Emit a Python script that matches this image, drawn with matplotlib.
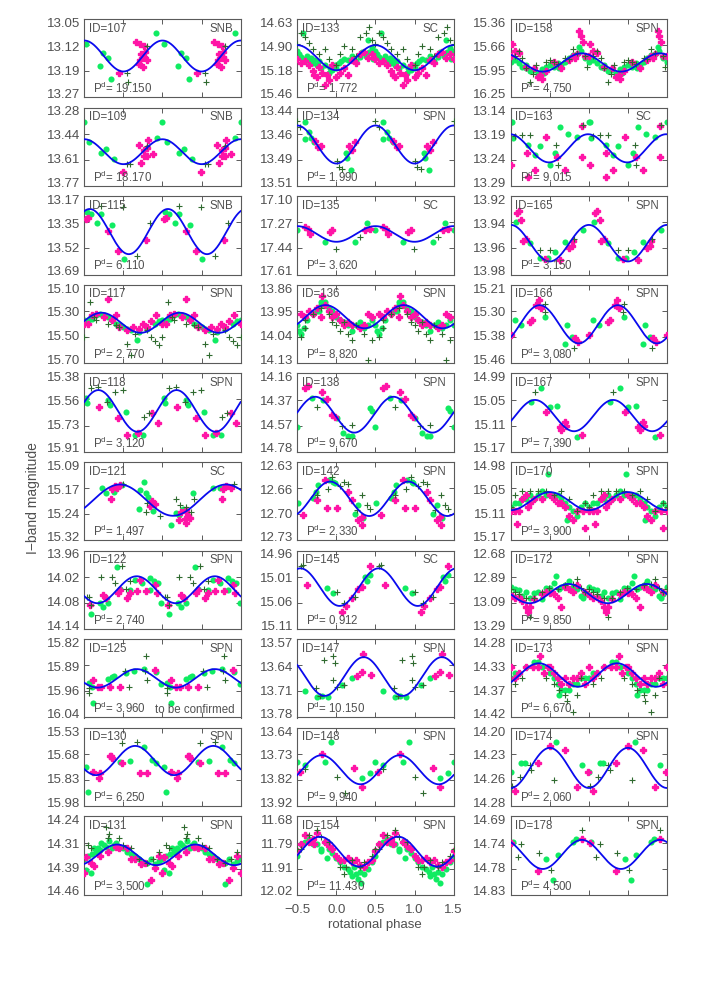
import numpy as np
import matplotlib
matplotlib.use('Agg')
import matplotlib.pyplot as plt

plt.rcParams['font.family'] = ['Liberation Sans', 'DejaVu Sans']
plt.rcParams['mathtext.default'] = 'regular'

# ---------------- panel metadata (column-major order) ----------------
IDS = [107, 109, 115, 117, 118, 121, 122, 125, 130, 131,
       133, 134, 135, 136, 138, 142, 145, 147, 148, 154,
       158, 163, 165, 166, 167, 170, 172, 173, 174, 178]
CLASSES = ['SNB', 'SNB', 'SNB', 'SPN', 'SPN', 'SC', 'SPN', 'SPN', 'SPN', 'SPN',
           'SC', 'SPN', 'SC', 'SPN', 'SPN', 'SPN', 'SC', 'SPN', 'SPN', 'SPN',
           'SPN', 'SC', 'SPN', 'SPN', 'SPN', 'SPN', 'SPN', 'SPN', 'SPN', 'SPN']
PERIODS = ['19.150', '18.170', '6.110', '2.770', '3.120', '1.497', '2.740', '3.960', '6.250', '3.500',
           '1.772', '1.990', '3.620', '8.820', '9.670', '2.330', '0.912', '10.150', '9.940', '11.430',
           '4.750', '9.015', '3.150', '3.080', '7.390', '3.900', '9.850', '6.670', '2.060', '4.500']
YLABELS = [
    ['13.05', '13.12', '13.19', '13.27'], ['13.28', '13.44', '13.61', '13.77'],
    ['13.17', '13.35', '13.52', '13.69'], ['15.10', '15.30', '15.50', '15.70'],
    ['15.38', '15.56', '15.73', '15.91'], ['15.09', '15.17', '15.24', '15.32'],
    ['13.96', '14.02', '14.08', '14.14'], ['15.82', '15.89', '15.96', '16.04'],
    ['15.53', '15.68', '15.83', '15.98'], ['14.24', '14.31', '14.39', '14.46'],
    ['14.63', '14.90', '15.18', '15.46'], ['13.44', '13.46', '13.49', '13.51'],
    ['17.10', '17.27', '17.44', '17.61'], ['13.86', '13.95', '14.04', '14.13'],
    ['14.16', '14.37', '14.57', '14.78'], ['12.63', '12.66', '12.70', '12.73'],
    ['14.96', '15.01', '15.06', '15.11'], ['13.57', '13.64', '13.71', '13.78'],
    ['13.64', '13.73', '13.82', '13.92'], ['11.68', '11.79', '11.91', '12.02'],
    ['15.36', '15.66', '15.95', '16.25'], ['13.14', '13.19', '13.24', '13.29'],
    ['13.92', '13.94', '13.96', '13.98'], ['15.21', '15.30', '15.38', '15.46'],
    ['14.99', '15.05', '15.11', '15.17'], ['14.98', '15.05', '15.11', '15.17'],
    ['12.68', '12.89', '13.09', '13.29'], ['14.28', '14.33', '14.37', '14.42'],
    ['14.20', '14.23', '14.26', '14.28'], ['14.69', '14.74', '14.78', '14.83']]

# sinusoidal fit: mean mag, semi-amplitude, phase of maximum brightness, period (in phase units)
FIT_MEAN = [13.154, 13.556, 13.405, 15.391, 15.634, 15.202, 14.050, 15.930, 15.718, 14.348,
            15.040, 13.473, 17.346, 13.970, 14.487, 12.677, 15.030, 13.670, 13.790, 11.833,
            15.854, 13.218, 13.956, 15.336, 15.087, 15.075, 13.015, 14.344, 14.241, 14.758]
FIT_AMP = [0.0435, 0.078, 0.150, 0.077, 0.141, 0.046, 0.031, 0.026, 0.084, 0.029,
           0.133, 0.017, 0.051, 0.040, 0.142, 0.022, 0.036, 0.052, 0.052, 0.065,
           0.104, 0.027, 0.014, 0.061, 0.036, 0.022, 0.075, 0.021, 0.0205, 0.026]
FIT_PHASE = [0.50, 0.50, 0.57, 0.72, 0.68, -0.045, 0.17, 0.17, 0.15, 0.92,
             0.50, 0.50, 0.50, 0.86, 0.73, 0.92, 0.54, 0.35, 0.81, 0.79,
             0.41, 0.49, 0.50, 0.87, 0.81, 0.00, 0.24, 0.86, 0.00, 0.41]
FIT_PERIOD = [1, 1, 1, 1, 1, 1.36, 1, 1, 1, 1,
              1, 1, 1, 1, 1, 1, 1, 1, 1, 1,
              1, 1, 1, 1, 1, 1, 1, 1, 1, 1]
# phases repeated over two cycles except ID=121 (phases given directly)
REPEAT = [True] * 30
REPEAT[5] = False

# ---------------- observations: (phase, I mag) ----------------
# green circles, magenta filled plus, dark green crosses
g107 = [(0.517, 13.121), (0.743, 13.146), (0.806, 13.159), (0.70, 13.181), (0.836, 13.218), (0.423, 13.090)]
m107 = [(0.157, 13.116), (0.211, 13.121), (0.262, 13.126), (0.28, 13.142), (0.23, 13.149), (0.27, 13.156),
        (0.211, 13.165), (0.20, 13.177), (0.25, 13.184), (0.30, 13.165), (0.947, 13.201)]
c107 = [(0.049, 13.201), (0.06, 13.228), (0.304, 13.126)]

g109 = [(0.50, 13.368), (0.56, 13.497), (0.713, 13.561), (0.78, 13.54), (0.879, 13.603), (0.432, 13.472)]
m109 = [(0.202, 13.514), (0.262, 13.545), (0.304, 13.535), (0.317, 13.482), (0.262, 13.586), (0.304, 13.58),
        (0.38, 13.57), (0.223, 13.624), (0.989, 13.68)]
c109 = [(0.049, 13.63), (0.083, 13.63), (0.304, 13.52)]

g115 = [(0.53, 13.278), (0.657, 13.347), (0.713, 13.285), (0.857, 13.363), (0.006, 13.584), (0.58, 13.29)]
m115 = [(0.517, 13.323), (0.806, 13.402), (0.926, 13.533), (0.287, 13.462), (0.55, 13.318)]
c115 = [(0.709, 13.236), (0.168, 13.565), (0.338, 13.351), (0.998, 13.24)]

g117 = [(0.55, 15.38), (0.6, 15.36), (0.65, 15.33), (0.7, 15.32), (0.75, 15.33), (0.8, 15.35), (0.85, 15.37),
        (0.9, 15.40), (0.95, 15.41), (0.0, 15.42), (0.05, 15.44), (0.1, 15.45), (0.17, 15.52), (0.2, 15.46),
        (0.3, 15.44), (0.4, 15.40), (0.45, 15.38), (0.5, 15.37), (0.58, 15.35)]
m117 = [(0.806, 15.207), (0.6, 15.33), (0.65, 15.32), (0.75, 15.35), (0.85, 15.37), (0.9, 15.33), (0.95, 15.42),
        (0.05, 15.45), (0.12, 15.42), (0.2, 15.44), (0.25, 15.40), (0.3, 15.42), (0.35, 15.38), (0.42, 15.33),
        (0.5, 15.40), (0.55, 15.40)]
c117 = [(0.572, 15.235), (0.65, 15.37), (0.8, 15.40), (0.9, 15.41), (0.95, 15.42), (0.05, 15.55), (0.1, 15.64),
        (0.15, 15.48), (0.3, 15.45), (0.35, 15.50), (0.4, 15.53), (0.45, 15.56), (0.5, 15.50), (0.62, 15.35)]

g118 = [(0.517, 15.549), (0.798, 15.56), (0.828, 15.594), (0.032, 15.639), (0.538, 15.578), (0.147, 15.80),
        (0.253, 15.80)]
m118 = [(0.691, 15.606), (0.934, 15.684), (0.049, 15.797), (0.189, 15.786), (0.372, 15.651), (0.445, 15.718)]
c118 = [(0.581, 15.481), (0.679, 15.47), (0.785, 15.572), (0.891, 15.504), (0.262, 15.673), (0.33, 15.651),
        (0.998, 15.493)]

g121 = [(-0.279, 15.165), (-0.228, 15.18), (-0.121, 15.177), (-0.023, 15.158), (0.211, 15.172), (0.262, 15.148),
        (0.287, 15.182), (0.317, 15.194), (0.202, 15.229), (0.381, 15.234), (0.615, 15.275), (0.679, 15.241),
        (0.713, 15.246), (0.764, 15.229), (0.891, 15.18), (1.147, 15.165), (1.232, 15.165)]
m121 = [(-0.151, 15.17), (-0.109, 15.16), (-0.079, 15.167), (-0.045, 15.158), (-0.164, 15.2), (0.36, 15.206),
        (0.402, 15.213), (0.338, 15.219), (0.743, 15.236), (0.806, 15.231), (0.828, 15.246), (0.857, 15.255),
        (0.785, 15.258), (0.713, 15.26), (0.806, 15.27), (1.274, 15.17), (1.317, 15.16), (1.381, 15.165),
        (1.266, 15.2)]
c121 = [(-0.011, 15.156), (0.296, 15.211), (0.287, 15.236), (0.474, 15.249), (0.679, 15.2), (0.721, 15.216),
        (0.806, 15.221), (0.87, 15.236), (0.9, 15.2), (1.415, 15.156)]

g122 = [(0.581, 14.106), (0.70, 14.081), (0.743, 14.09), (0.806, 14.081), (0.764, 14.066), (0.921, 13.998),
        (0.955, 14.049), (0.083, 14.05), (0.147, 14.027), (0.232, 14.035), (0.338, 14.024), (0.389, 14.031),
        (0.445, 14.035), (0.487, 14.081), (0.338, 14.05)]
m122 = [(0.572, 14.085), (0.743, 14.062), (0.777, 14.07), (0.934, 14.058), (0.955, 14.05), (0.083, 14.058),
        (0.168, 14.054), (0.211, 14.027), (0.287, 14.054), (0.402, 14.039), (0.432, 14.058), (0.04, 14.07)]
c122 = [(0.564, 14.066), (0.581, 14.085), (0.709, 14.02), (0.849, 14.021), (0.977, 13.995), (0.032, 14.049),
        (0.083, 14.029), (0.53, 14.066), (0.89, 14.035)]

g125 = [(0.564, 15.942), (0.594, 15.955), (0.606, 16.0), (0.806, 15.932), (0.849, 15.925), (0.879, 15.923),
        (0.032, 15.914), (0.134, 15.909), (0.262, 15.904), (0.415, 15.911), (0.487, 15.945)]
m125 = [(0.606, 15.934), (0.679, 15.955), (0.828, 15.953), (0.955, 15.953), (0.402, 15.906), (0.72, 15.955)]
c125 = [(0.564, 15.958), (0.564, 15.972), (0.019, 15.908), (0.074, 15.955), (0.287, 15.867), (0.274, 15.909),
        (0.304, 15.934)]

g130 = [(0.517, 15.754), (0.543, 15.898), (0.955, 15.725), (0.091, 15.719), (0.262, 15.639), (0.368, 15.716),
        (0.415, 15.735)]
m130 = [(0.828, 15.693), (0.849, 15.706), (0.7, 15.792), (0.691, 15.821), (0.615, 15.782), (0.977, 15.735),
        (0.211, 15.788), (0.296, 15.788), (0.84, 15.69)]
c130 = [(0.977, 15.62), (0.168, 15.61)]

g131 = [(0.5, 14.36), (0.55, 14.35), (0.6, 14.345), (0.62, 14.33), (0.68, 14.33), (0.7, 14.335), (0.75, 14.32),
        (0.78, 14.325), (0.82, 14.31), (0.85, 14.33), (0.9, 14.315), (0.95, 14.33), (0.0, 14.33), (0.05, 14.34),
        (0.1, 14.345), (0.15, 14.35), (0.2, 14.36), (0.25, 14.37), (0.3, 14.37), (0.35, 14.36), (0.4, 14.375),
        (0.45, 14.365), (0.52, 14.39), (0.58, 14.40), (0.3, 14.43), (0.65, 14.34), (0.72, 14.315), (0.88, 14.32)]
m131 = [(0.52, 14.355), (0.58, 14.37), (0.62, 14.38), (0.7, 14.35), (0.8, 14.34), (0.9, 14.325), (0.95, 14.33),
        (0.05, 14.33), (0.1, 14.36), (0.15, 14.36), (0.22, 14.375), (0.28, 14.37), (0.35, 14.42), (0.4, 14.385),
        (0.45, 14.35), (0.5, 14.4)]
c131 = [(0.55, 14.32), (0.58, 14.33), (0.78, 14.27), (0.8, 14.30), (0.82, 14.29), (0.95, 14.3), (0.0, 14.32),
        (0.1, 14.33), (0.2, 14.36), (0.3, 14.37), (0.38, 14.36), (0.45, 14.34)]

g133 = [(0.5, 14.97), (0.52, 15.0), (0.55, 15.03), (0.57, 14.78), (0.6, 15.05), (0.62, 15.02), (0.65, 15.07),
        (0.68, 15.04), (0.7, 15.1), (0.72, 15.06), (0.75, 15.12), (0.78, 15.08), (0.8, 15.15), (0.85, 15.12),
        (0.9, 15.2), (0.92, 15.15), (0.95, 15.17), (0.98, 15.12), (0.0, 15.15), (0.03, 15.1), (0.06, 15.08),
        (0.1, 15.05), (0.15, 15.06), (0.2, 15.02), (0.25, 15.08), (0.3, 15.03), (0.33, 14.98), (0.38, 15.02),
        (0.42, 14.98), (0.45, 14.94), (0.47, 15.05), (0.4, 14.85)]
m133 = [(0.55, 15.1), (0.6, 15.08), (0.65, 15.12), (0.7, 15.18), (0.72, 15.22), (0.75, 15.25), (0.78, 15.14),
        (0.82, 15.2), (0.85, 15.33), (0.88, 15.22), (0.9, 15.28), (0.95, 15.12), (0.0, 15.25), (0.05, 15.2),
        (0.1, 15.15), (0.15, 15.22), (0.2, 15.06), (0.25, 15.1), (0.3, 15.0), (0.35, 14.98), (0.4, 15.04),
        (0.45, 15.0), (0.5, 15.05)]
c133 = [(0.5, 14.9), (0.55, 14.78), (0.6, 14.82), (0.7, 14.95), (0.78, 15.0), (0.85, 14.95), (0.9, 15.05),
        (0.0, 15.12), (0.05, 15.0), (0.1, 14.92), (0.2, 14.95), (0.3, 14.82), (0.38, 14.78), (0.42, 14.72),
        (0.45, 14.85), (0.65, 14.88), (0.25, 15.02)]

g134 = [(0.6, 13.453), (0.6, 13.468), (0.67, 13.467), (0.72, 13.471), (0.12, 13.481), (0.14, 13.485),
        (0.19, 13.496), (0.65, 13.462)]
m134 = [(0.73, 13.47), (0.77, 13.475), (0.8, 13.474), (0.16, 13.474), (0.24, 13.471), (0.2, 13.478)]
c134 = [(0.5, 13.452), (0.004, 13.488), (0.034, 13.493), (0.077, 13.495), (0.54, 13.457)]

g135 = [(0.5, 17.321), (0.855, 17.397), (0.239, 17.397), (0.389, 17.274)]
m135 = [(0.598, 17.30), (0.641, 17.311), (0.662, 17.343), (0.919, 17.332), (0.949, 17.321), (0.368, 17.321),
        (0.432, 17.311)]
c135 = [(0.991, 17.441), (0.303, 17.365)]

g136 = [(0.5, 14.0), (0.52, 14.02), (0.55, 14.03), (0.58, 14.01), (0.62, 13.98), (0.7, 13.96), (0.75, 13.95),
        (0.8, 13.93), (0.85, 13.92), (0.9, 13.94), (0.95, 13.95), (0.0, 13.97), (0.05, 13.98), (0.1, 13.99),
        (0.15, 14.0), (0.2, 14.02), (0.25, 14.0), (0.3, 13.99), (0.35, 14.01), (0.4, 14.0), (0.45, 13.98),
        (0.8, 13.92), (0.78, 13.95)]
m136 = [(0.55, 13.96), (0.6, 13.97), (0.65, 13.95), (0.7, 13.96), (0.75, 13.94), (0.8, 13.97), (0.82, 13.9),
        (0.85, 13.93), (0.9, 13.95), (0.95, 13.97), (0.0, 13.96), (0.05, 13.98), (0.1, 14.0), (0.15, 13.99),
        (0.2, 14.0), (0.3, 14.01), (0.35, 14.0), (0.4, 13.96), (0.45, 13.97)]
c136 = [(0.55, 14.04), (0.6, 13.98), (0.7, 13.96), (0.8, 13.94), (0.9, 13.96), (0.95, 13.99), (0.0, 14.0),
        (0.05, 14.02), (0.1, 13.99), (0.15, 14.03), (0.2, 14.05), (0.25, 14.0), (0.35, 14.03), (0.4, 14.12),
        (0.45, 14.05), (0.6, 14.01)]

g138 = [(0.5, 14.587), (0.684, 14.358), (0.833, 14.371), (0.004, 14.516), (0.09, 14.635), (0.154, 14.656),
        (0.197, 14.656), (0.432, 14.437), (0.45, 14.46)]
m138 = [(0.598, 14.279), (0.632, 14.26), (0.812, 14.305), (0.876, 14.366), (0.949, 14.49), (0.983, 14.503)]
c138 = [(0.748, 14.429), (0.068, 14.577), (0.197, 14.571)]

g142 = [(0.513, 12.683), (0.705, 12.676), (0.735, 12.668), (0.769, 12.659), (0.906, 12.653), (0.962, 12.655),
        (0.983, 12.657), (0.239, 12.696), (0.282, 12.685), (0.346, 12.702)]
m142 = [(0.577, 12.698), (0.748, 12.679), (0.855, 12.653), (0.876, 12.689), (0.004, 12.689), (0.154, 12.668),
        (0.197, 12.679), (0.282, 12.704), (0.325, 12.70), (0.333, 12.71)]
c142 = [(0.748, 12.672), (0.949, 12.649), (0.897, 12.664), (0.047, 12.661), (0.103, 12.656), (0.154, 12.658),
        (0.261, 12.691), (0.333, 12.672), (0.389, 12.685), (0.432, 12.69)]

g145 = [(0.876, 15.032), (0.962, 15.042), (0.368, 15.01), (0.389, 15.019), (0.432, 15.007)]
m145 = [(0.62, 15.026), (0.077, 15.077), (0.12, 15.067), (0.197, 15.051), (0.282, 15.034), (0.325, 15.029),
        (0.432, 14.989)]
c145 = [(0.577, 14.987), (0.004, 15.04), (0.103, 15.061), (0.239, 15.048), (0.547, 14.989)]

g147 = [(0.598, 13.708), (0.748, 13.725), (0.897, 13.725), (0.077, 13.692), (0.197, 13.675), (0.82, 13.722)]
m147 = [(0.261, 13.67), (0.325, 13.657), (0.346, 13.609), (0.444, 13.666)]
c147 = [(0.735, 13.701), (0.791, 13.722), (0.842, 13.625), (0.962, 13.616), (0.983, 13.634), (0.962, 13.679),
        (0.004, 13.697), (0.103, 13.692)]

g148 = [(0.5, 13.762), (0.598, 13.774), (0.855, 13.762), (0.932, 13.69), (0.325, 13.821), (0.432, 13.80)]
m148 = [(0.534, 13.797), (0.812, 13.732), (0.231, 13.782), (0.325, 13.851)]
c148 = [(0.598, 13.789), (0.004, 13.815), (0.111, 13.872)]

g154 = [(0.55, 11.8), (0.6, 11.79), (0.65, 11.78), (0.7, 11.8), (0.75, 11.8), (0.8, 11.82), (0.85, 11.79),
        (0.9, 11.82), (0.95, 11.84), (0.0, 11.86), (0.05, 11.88), (0.1, 11.9), (0.15, 11.91), (0.18, 11.92),
        (0.2, 11.94), (0.22, 11.9), (0.25, 11.93), (0.28, 11.95), (0.3, 11.92), (0.32, 11.97), (0.35, 11.93),
        (0.4, 11.91), (0.45, 11.88), (0.5, 11.85), (0.8, 11.83), (0.88, 11.86)]
m154 = [(0.55, 11.8), (0.6, 11.76), (0.65, 11.79), (0.7, 11.78), (0.72, 11.8), (0.85, 11.79), (0.9, 11.81),
        (0.95, 11.82), (0.0, 11.85), (0.05, 11.87), (0.1, 11.87), (0.15, 11.86), (0.2, 11.88), (0.25, 11.87),
        (0.3, 11.89), (0.35, 11.9), (0.4, 11.88), (0.45, 11.87), (0.5, 11.83), (0.75, 11.75)]
c154 = [(0.55, 11.82), (0.65, 11.76), (0.75, 11.74), (0.8, 11.77), (0.9, 11.79), (0.05, 11.9), (0.1, 11.93),
        (0.12, 11.9), (0.2, 11.87), (0.3, 11.9), (0.35, 11.88), (0.45, 11.85), (0.5, 11.82)]

g158 = [(0.5, 15.85), (0.55, 15.83), (0.6, 15.86), (0.65, 15.9), (0.7, 15.92), (0.75, 15.95), (0.8, 15.94),
        (0.85, 15.98), (0.9, 15.93), (0.95, 15.9), (0.0, 15.88), (0.05, 15.9), (0.1, 15.86), (0.15, 15.88),
        (0.2, 15.85), (0.25, 15.8), (0.3, 15.77), (0.35, 15.76), (0.4, 15.72), (0.45, 15.8), (0.38, 15.68),
        (0.12, 15.92), (0.7, 15.88), (0.92, 15.97)]
m158 = [(0.5, 15.78), (0.52, 15.64), (0.55, 15.72), (0.6, 15.75), (0.7, 15.9), (0.8, 15.92), (0.85, 16.02),
        (0.88, 16.0), (0.9, 16.04), (0.95, 15.95), (0.05, 15.85), (0.15, 15.92), (0.25, 15.83), (0.3, 15.78),
        (0.35, 15.76), (0.38, 15.5), (0.4, 15.55), (0.42, 15.62), (0.45, 15.78), (0.32, 15.8)]
c158 = [(0.55, 15.78), (0.6, 15.72), (0.65, 15.8), (0.7, 15.92), (0.75, 16.08), (0.78, 15.98), (0.82, 15.88),
        (0.95, 15.85), (0.0, 15.83), (0.05, 15.85), (0.1, 15.87), (0.2, 15.8), (0.25, 15.82), (0.3, 15.7),
        (0.35, 15.75), (0.45, 15.78), (0.48, 15.9)]

g163 = [(0.521, 13.167), (0.53, 13.199), (0.722, 13.212), (0.808, 13.231), (0.872, 13.213), (0.0, 13.25),
        (0.064, 13.227), (0.128, 13.178), (0.235, 13.19), (0.342, 13.197), (0.5, 13.168)]
m163 = [(0.509, 13.25), (0.714, 13.227), (0.722, 13.272), (0.808, 13.259), (0.957, 13.196), (0.098, 13.234),
        (0.192, 13.259), (0.406, 13.176), (0.415, 13.234)]
c163 = [(0.551, 13.194), (0.645, 13.192), (0.744, 13.192), (0.085, 13.212), (0.107, 13.25), (0.427, 13.173)]

g165 = [(0.564, 13.94), (0.744, 13.956), (0.872, 13.967), (0.979, 13.967), (0.073, 13.963), (0.192, 13.955),
        (0.427, 13.946)]
m165 = [(0.585, 13.933), (0.60, 13.931), (0.637, 13.938), (0.658, 13.954), (0.70, 13.953), (0.936, 13.968),
        (0.128, 13.969), (0.244, 13.96), (0.278, 13.958), (0.299, 13.954)]
c165 = [(0.872, 13.961), (0.0, 13.961), (0.312, 13.953)]

g166 = [(0.551, 15.323), (0.628, 15.339), (0.944, 15.312), (0.192, 15.40), (0.278, 15.376), (0.218, 15.339)]
m166 = [(0.5, 15.371), (0.744, 15.328), (0.774, 15.323), (0.829, 15.275), (0.859, 15.259), (0.885, 15.285),
        (0.321, 15.381), (0.363, 15.392)]
c166 = [(0.944, 15.27), (0.936, 15.296), (0.312, 15.413)]

g167 = [(0.765, 15.055), (0.893, 15.024), (0.0, 15.067), (0.098, 15.065), (0.342, 15.136)]
m167 = [(0.957, 15.078), (0.128, 15.113), (0.192, 15.101), (0.406, 15.132), (0.15, 15.12), (0.21, 15.11)]
c167 = [(0.808, 15.032)]

g170 = [(0.5, 15.09), (0.55, 15.08), (0.6, 15.08), (0.65, 15.07), (0.7, 15.07), (0.75, 15.06), (0.8, 15.07),
        (0.85, 15.06), (0.9, 15.05), (0.95, 15.06), (0.98, 15.01), (0.0, 15.06), (0.05, 15.06), (0.1, 15.06),
        (0.15, 15.07), (0.2, 15.08), (0.25, 15.09), (0.3, 15.1), (0.35, 15.11), (0.4, 15.09), (0.45, 15.08),
        (0.22, 15.12)]
m170 = [(0.55, 15.1), (0.6, 15.1), (0.65, 15.07), (0.7, 15.06), (0.75, 15.08), (0.8, 15.07), (0.9, 15.07),
        (0.0, 15.06), (0.05, 15.07), (0.1, 15.08), (0.15, 15.08), (0.2, 15.09), (0.3, 15.12), (0.35, 15.1),
        (0.42, 15.1), (0.5, 15.1), (0.58, 15.13), (0.72, 15.09), (0.25, 15.11), (0.45, 15.14)]
c170 = [(0.55, 15.06), (0.65, 15.05), (0.75, 15.05), (0.85, 15.05), (0.95, 15.05), (0.05, 15.06), (0.15, 15.05),
        (0.25, 15.07), (0.35, 15.1), (0.45, 15.08), (0.5, 15.09)]

g172 = [(0.5, 12.96), (0.55, 12.98), (0.6, 12.99), (0.65, 13.03), (0.7, 13.0), (0.75, 13.05), (0.8, 13.01),
        (0.85, 13.0), (0.9, 13.06), (0.95, 12.97), (0.0, 12.97), (0.05, 12.93), (0.08, 12.88), (0.12, 12.98),
        (0.15, 12.96), (0.2, 12.95), (0.25, 12.92), (0.3, 12.96), (0.35, 12.98), (0.4, 13.03), (0.45, 13.02),
        (0.42, 13.05)]
m172 = [(0.52, 13.03), (0.55, 13.05), (0.6, 13.04), (0.65, 13.07), (0.7, 13.12), (0.72, 13.16), (0.75, 13.12),
        (0.8, 13.06), (0.9, 13.02), (0.95, 13.0), (0.0, 13.01), (0.05, 13.02), (0.1, 13.05), (0.15, 13.12),
        (0.2, 12.96), (0.25, 12.98), (0.3, 13.0), (0.35, 12.95), (0.45, 13.0)]
c172 = [(0.5, 12.98), (0.6, 13.02), (0.7, 13.05), (0.75, 13.2), (0.8, 13.05), (0.9, 13.0), (0.99, 12.97),
        (0.1, 12.98), (0.2, 12.95), (0.3, 12.94), (0.35, 12.9), (0.4, 12.97), (0.45, 13.0), (0.55, 13.0)]

g173 = [(0.5, 14.35), (0.55, 14.34), (0.6, 14.34), (0.7, 14.33), (0.8, 14.32), (0.85, 14.32), (0.9, 14.33),
        (0.0, 14.34), (0.05, 14.35), (0.1, 14.36), (0.15, 14.37), (0.2, 14.37), (0.25, 14.37), (0.3, 14.36),
        (0.35, 14.36), (0.4, 14.35), (0.45, 14.35), (0.12, 14.38)]
m173 = [(0.5, 14.33), (0.55, 14.35), (0.6, 14.34), (0.7, 14.33), (0.78, 14.33), (0.85, 14.33), (0.88, 14.31),
        (0.92, 14.34), (0.0, 14.33), (0.05, 14.34), (0.1, 14.35), (0.15, 14.36), (0.2, 14.35), (0.25, 14.36),
        (0.3, 14.35), (0.35, 14.35), (0.4, 14.34), (0.45, 14.36), (0.98, 14.33)]
c173 = [(0.55, 14.36), (0.65, 14.35), (0.95, 14.35), (0.05, 14.36), (0.12, 14.37), (0.2, 14.38), (0.22, 14.39),
        (0.3, 14.41), (0.35, 14.38), (0.4, 14.35)]

g174 = [(0.637, 14.236), (0.085, 14.215), (0.406, 14.238), (0.5, 14.245), (0.68, 14.236)]
m174 = [(0.551, 14.265), (0.85, 14.236), (0.0, 14.219), (0.192, 14.223), (0.342, 14.26), (0.491, 14.245)]
c174 = [(0.521, 14.259), (0.615, 14.25), (0.744, 14.238), (0.765, 14.243), (0.056, 14.253)]

g178 = [(0.53, 14.735), (0.957, 14.767), (0.043, 14.804), (0.107, 14.759), (0.299, 14.735), (0.33, 14.73)]
m178 = [(0.509, 14.737), (0.85, 14.787), (0.406, 14.731)]
c178 = [(0.637, 14.739), (0.594, 14.763), (0.863, 14.755), (0.013, 14.785), (0.406, 14.714)]

GREEN = [g107, g109, g115, g117, g118, g121, g122, g125, g130, g131,
         g133, g134, g135, g136, g138, g142, g145, g147, g148, g154,
         g158, g163, g165, g166, g167, g170, g172, g173, g174, g178]
MAGENTA = [m107, m109, m115, m117, m118, m121, m122, m125, m130, m131,
           m133, m134, m135, m136, m138, m142, m145, m147, m148, m154,
           m158, m163, m165, m166, m167, m170, m172, m173, m174, m178]
CROSS = [c107, c109, c115, c117, c118, c121, c122, c125, c130, c131,
         c133, c134, c135, c136, c138, c142, c145, c147, c148, c154,
         c158, c163, c165, c166, c167, c170, c172, c173, c174, c178]

XTICKS = [-0.5, 0.0, 0.5, 1.0, 1.5]
XTICKLABELS = ['\u22120.5', '0.0', '0.5', '1.0', '1.5']

# ---------------- styling ----------------
W, H = 709, 984
TXT = '#505050'
SPINE = '#5a5a5a'
C_GREEN = '#10ec62'
C_MAG = '#ff14a6'
C_CROSS = '#2f6a2f'
C_LINE = '#0a0aee'

fig = plt.figure(figsize=(W / 100, H / 100), dpi=100)
col_left = [84.3, 297.3, 510.7]
panel_w = 156.3
row_top0, row_pitch, panel_h = 19.0, 88.6, 78.3


def expand(pts, repeat):
    ph = np.array([p[0] for p in pts], dtype=float)
    mg = np.array([p[1] for p in pts], dtype=float)
    if not repeat:
        return ph, mg
    xs, ys = [], []
    for shift in (-1.0, 0.0, 1.0):
        x = ph + shift
        keep = (x >= -0.5) & (x <= 1.5)
        xs.append(x[keep])
        ys.append(mg[keep])
    return np.concatenate(xs), np.concatenate(ys)


xfit = np.linspace(-0.5, 1.5, 500)
for k, pid in enumerate(IDS):
    col, row = divmod(k, 10)
    x0 = col_left[col]
    y0 = row_top0 + row * row_pitch
    ax = fig.add_axes([x0 / W, 1 - (y0 + panel_h) / H, panel_w / W, panel_h / H])
    labs = YLABELS[k]
    top, bot = float(labs[0]), float(labs[3])
    ax.set_xlim(-0.5, 1.5)
    ax.set_ylim(bot, top)

    gx, gy = expand(GREEN[k], REPEAT[k])
    mx, my = expand(MAGENTA[k], REPEAT[k])
    cx, cy = expand(CROSS[k], REPEAT[k])
    ax.plot(gx, gy, 'o', ms=4.4, color=C_GREEN, mec=C_GREEN, mew=0, zorder=2)
    ax.plot(mx, my, 'P', ms=4.4, color=C_MAG, mec=C_MAG, mew=1.0, zorder=3)
    ax.plot(cx, cy, '+', ms=4.8, color=C_CROSS, mew=0.8, zorder=4)
    yfit = FIT_MEAN[k] - FIT_AMP[k] * np.cos(2 * np.pi * (xfit - FIT_PHASE[k]) / FIT_PERIOD[k])
    ax.plot(xfit, yfit, '-', color=C_LINE, lw=1.3, zorder=5)

    ax.set_xticks(XTICKS)
    ax.set_yticks([top + (bot - top) / 3.0, top + 2 * (bot - top) / 3.0])
    ax.tick_params(direction='in', length=3.5, width=0.7, color=SPINE,
                   top=True, right=True, labelleft=False,
                   labelbottom=(k == 19), labelsize=9.5, labelcolor=TXT, pad=7)
    if k == 19:
        ax.set_xticklabels(XTICKLABELS)
    for s in ax.spines.values():
        s.set_color(SPINE)
        s.set_linewidth(0.8)

    # y tick labels placed like the original
    for frac, lab in zip([0.939, 0.636, 0.327, 0.03], labs):
        ax.text(-0.026, frac, lab, transform=ax.transAxes, ha='right', va='center',
                fontsize=9.5, color=TXT)
    ax.text(0.030, 0.838, 'ID=%d' % pid, transform=ax.transAxes, ha='left', va='baseline',
            fontsize=8.3, color=TXT, zorder=6)
    ax.text(0.80, 0.838, CLASSES[k], transform=ax.transAxes, ha='left', va='baseline',
            fontsize=8.3, color=TXT, zorder=6)
    ax.text(0.058, 0.052, '$\\mathregular{P^d}$= ' + PERIODS[k], transform=ax.transAxes,
            ha='left', va='baseline', fontsize=8.3, color=TXT, zorder=6)
    if pid == 125:
        ax.text(0.454, 0.052, 'to be confirmed', transform=ax.transAxes, ha='left',
                va='baseline', fontsize=8.3, color=TXT, zorder=6)

fig.text(375 / W, 1 - 925 / H, 'rotational phase', ha='center', va='center',
         fontsize=9.5, color=TXT)
fig.text(33 / W, 1 - 498 / H, 'I\u2212band magnitude', ha='center', va='center',
         rotation=90, fontsize=10, color=TXT)

fig.savefig('out.png', dpi=100)
